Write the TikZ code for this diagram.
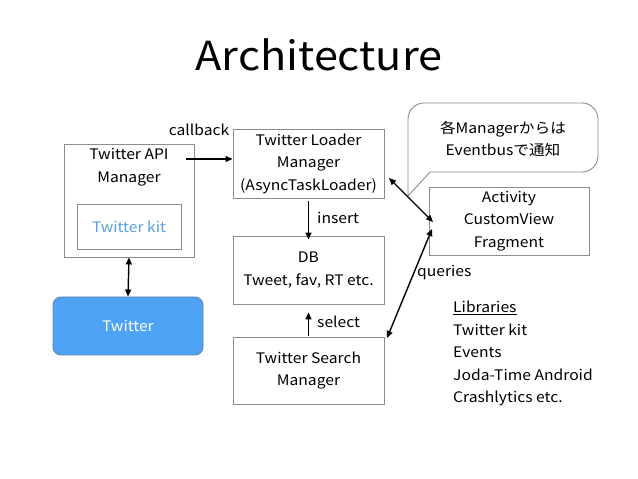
\documentclass[tikz,border=0pt]{standalone}
\usepackage{fontspec}
\setmainfont{Noto Sans CJK JP}[FakeStretch=1.08]
\usetikzlibrary{arrows.meta}
\definecolor{boxgray}{HTML}{8C8C8C}
\definecolor{twblue}{HTML}{4EA3F5}
\definecolor{twborder}{HTML}{5F86AD}
\definecolor{kitblue}{HTML}{5A9FE0}
\begin{document}
\begin{tikzpicture}[x=1pt,y=1pt,
  box/.style={draw=boxgray,line width=0.9pt,rectangle,inner sep=0pt},
  txt/.style={font=\fontsize{14.5}{22.5}\selectfont,align=center,inner sep=0pt},
  lbl/.style={font=\fontsize{14.5}{22.5}\selectfont,inner sep=0pt},
  arr/.style={line width=1.4pt,-{Triangle[length=7pt,width=6pt]}},
  darr/.style={line width=1.4pt,{Triangle[length=7pt,width=6pt]}-{Triangle[length=7pt,width=6pt]}}]
\useasboundingbox (0,0) rectangle (638,479);
\node[inner sep=0pt,font=\fontsize{40}{46}\selectfont] (title) at (319,424) {Architecture};
% boxes
\node[box,minimum width=130pt,minimum height=113pt] (api) at (129,278.5) {};
\node[txt] (apitxt) at (129,312) {Twitter API\\Manager};
\node[box,minimum width=104pt,minimum height=45pt,text=kitblue,font=\fontsize{14.5}{22.5}\selectfont] (kit) at (129,252.5) {Twitter kit};
\node[draw=twborder,fill=twblue,line width=0.9pt,rounded corners=8pt,minimum width=150pt,minimum height=58pt,text=white,font=\fontsize{14.5}{22.5}\selectfont] (twitter) at (128,153) {Twitter};
\node[box,txt,minimum width=151pt,minimum height=69pt] (loader) at (308.5,315.5) {Twitter Loader\\Manager\\(AsyncTaskLoader)};
\node[box,txt,minimum width=151pt,minimum height=68pt] (db) at (308.5,209) {DB\\Tweet, fav, RT etc.};
\node[box,txt,minimum width=151pt,minimum height=67pt] (search) at (308.5,108.5) {Twitter Search\\Manager};
\node[box,txt,minimum width=160pt,minimum height=68pt] (activity) at (509,258) {Activity\\CustomView\\Fragment};
% bubble
\draw[boxgray,line width=0.9pt] (408,283) -- (408,360) arc[start angle=180,end angle=90,radius=16] -- (582,376) arc[start angle=90,end angle=0,radius=16] -- (598,323) arc[start angle=0,end angle=-90,radius=16] -- (430,307) -- cycle;
\node[txt] (bubtxt) at (503,340) {各Managerからは\\Eventbusで通知};
% connectors
\coordinate (cbstart) at (186,320);
\draw[arr] (cbstart) -- (cbstart -| loader.west);
\node[lbl] (cblbl) at (199,349) {callback};
\draw[arr] ([yshift=-3pt]loader.south) -- ([yshift=-4pt]db.north);
\node[lbl,anchor=west] (inslbl) at (317,261) {insert};
\draw[arr] ([yshift=1pt]search.north) -- ([yshift=-8pt]db.south);
\node[lbl,anchor=west] (sellbl) at (317,157) {select};
\draw[darr] (api.south) -- (twitter.north);
\coordinate (la1) at (389,301);
\coordinate (la2) at (433,257);
\draw[darr] (la1) -- (la2);
\coordinate (sa1) at (387,141);
\coordinate (sa2) at (432,250);
\draw[darr] (sa1) -- (sa2);
\node[lbl,anchor=west] (qlbl) at (417,206) {queries};
% libraries
\node[lbl,anchor=west] (lib0) at (453,171) {\underline{Libraries}};
\node[lbl,anchor=west] (lib1) at (453,149) {Twitter kit};
\node[lbl,anchor=west] (lib2) at (453,127) {Events};
\node[lbl,anchor=west] (lib3) at (453,104) {Joda-Time Android};
\node[lbl,anchor=west] (lib4) at (453,81) {Crashlytics etc.};
\end{tikzpicture}
\end{document}
